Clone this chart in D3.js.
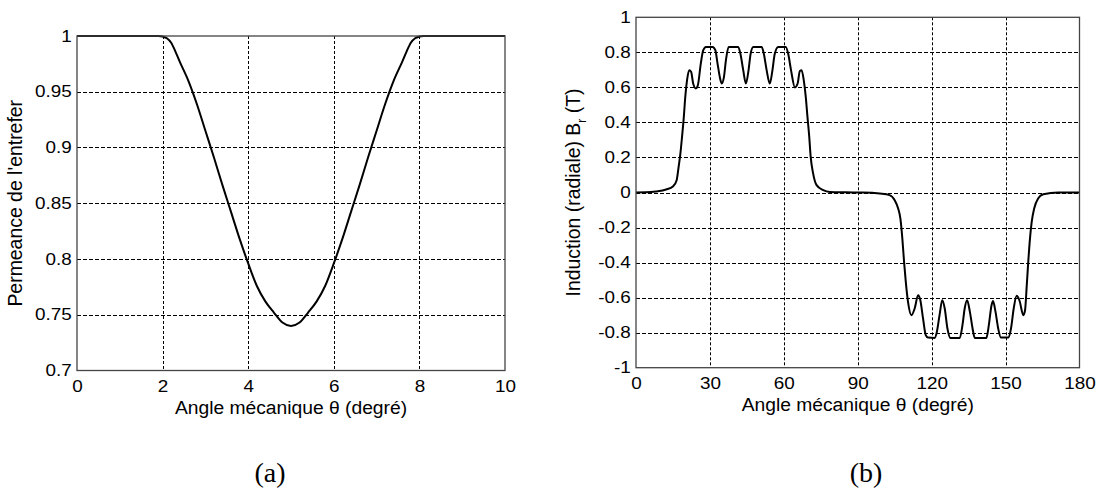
<!DOCTYPE html>
<html>
<head>
<meta charset="utf-8">
<script src="https://cdn.jsdelivr.net/npm/d3@7"></script>
<style>
  body { margin: 0; background: #fff; }
  svg text { fill: #000; }
</style>
</head>
<body>
<script>
// (a) permeance of the air gap vs mechanical angle
const angleA = [0, 0.5, 1, 1.5, 1.8, 1.9, 2.0, 2.1, 2.2, 2.3, 2.4, 2.6, 2.8, 3.0, 3.2, 3.4, 3.6, 3.8, 4.0, 4.2, 4.4, 4.6, 4.8, 5.0,
                5.2, 5.4, 5.6, 5.8, 6.0, 6.2, 6.4, 6.6, 6.8, 7.0, 7.2, 7.4, 7.6, 7.7, 7.8, 7.9, 8.0, 8.1, 8.2, 8.5, 9, 9.5, 10];
const permeance = [1, 1, 1, 1, 1, 1, 0.9995, 0.998, 0.994, 0.986, 0.977, 0.960, 0.939, 0.915, 0.891, 0.866, 0.842, 0.818, 0.796, 0.776, 0.762, 0.752, 0.743, 0.740,
                   0.743, 0.752, 0.762, 0.776, 0.796, 0.818, 0.842, 0.866, 0.891, 0.915, 0.939, 0.960, 0.977, 0.986, 0.994, 0.998, 0.9995, 1, 1, 1, 1, 1, 1];
const xTicksA = [0, 2, 4, 6, 8, 10];
const yTicksA = [0.7, 0.75, 0.8, 0.85, 0.9, 0.95, 1];
const yLabelsA = ["0.7", "0.75", "0.8", "0.85", "0.9", "0.95", "1"];

// (b) radial flux density vs mechanical angle
const angleB = [0, 4, 8.1, 12.2, 15.1, 16.5, 17.3, 18.0, 18.7, 19.4, 20.0, 20.7, 21.6, 22.4, 23.2, 24.3, 25.1, 26.3, 27.3, 28.4,
                31.1, 32.2, 33.1, 34.0, 34.8, 35.7, 36.5, 37.6, 41.5, 42.4, 43.5, 44.6, 45.7, 46.5, 47.6, 51.0, 51.9, 53.0, 54.3, 55.4,
                56.3, 57.7, 60.8, 61.8, 62.9, 64.5, 65.6, 66.5, 67.2, 68.1, 68.9, 69.6, 70.3, 70.9, 71.9, 73.3, 76.0, 78.7, 85, 92,
                98.9, 102.9, 105.0, 106.4, 107.3, 108.1, 108.8, 109.5, 110.4, 111.8, 113.1, 114.5, 115.4, 116.5, 117.6, 118.5, 121.2, 122.1, 123.2, 124.3,
                125.3, 126.4, 127.6, 131.4, 132.5, 133.4, 134.4, 135.5, 136.6, 137.5, 142.2, 143.2, 144.3, 144.9, 145.9, 147.0, 148.1, 151.1, 152.2, 153.3,
                154.5, 155.6, 157.2, 157.9, 158.6, 159.2, 159.9, 160.6, 161.6, 163.2, 165.3, 171.3, 180];
const induction = [0, 0.001, 0.006, 0.017, 0.036, 0.07, 0.146, 0.22, 0.32, 0.43, 0.546, 0.64, 0.698, 0.688, 0.622, 0.594, 0.612, 0.736, 0.812, 0.831,
                   0.831, 0.812, 0.736, 0.66, 0.622, 0.66, 0.755, 0.831, 0.831, 0.79, 0.70, 0.622, 0.70, 0.79, 0.831, 0.831, 0.79, 0.70, 0.622, 0.70,
                   0.79, 0.831, 0.831, 0.79, 0.70, 0.60, 0.622, 0.694, 0.698, 0.64, 0.546, 0.43, 0.32, 0.203, 0.108, 0.042, 0.013, 0.003, 0.001, 0,
                   -0.006, -0.015, -0.044, -0.091, -0.148, -0.263, -0.396, -0.51, -0.624, -0.70, -0.662, -0.587, -0.615, -0.719, -0.814, -0.828, -0.830, -0.796, -0.70, -0.615,
                   -0.662, -0.776, -0.830, -0.830, -0.757, -0.662, -0.615, -0.68, -0.776, -0.830, -0.830, -0.757, -0.643, -0.62, -0.68, -0.776, -0.828, -0.828, -0.776, -0.662,
                   -0.59, -0.615, -0.70, -0.672, -0.529, -0.396, -0.263, -0.168, -0.091, -0.034, -0.01, 0, 0];
const xTicksB = [0, 30, 60, 90, 120, 150, 180];
const yTicksB = [-1, -0.8, -0.6, -0.4, -0.2, 0, 0.2, 0.4, 0.6, 0.8, 1];
const yLabelsB = ["-1", "-0.8", "-0.6", "-0.4", "-0.2", "0", "0.2", "0.4", "0.6", "0.8", "1"];

const sans = "'Liberation Sans', Arial, sans-serif";
const serif = "'Liberation Serif', 'Times New Roman', serif";

const svg = d3.select("body").append("svg")
    .attr("width", 1102)
    .attr("height", 498);

function panel(o) {
  const x = d3.scaleLinear().domain(o.xDomain).range([o.left, o.right]);
  const y = d3.scaleLinear().domain(o.yDomain).range([o.bottom, o.top]);
  const g = svg.append("g");

  // dotted grid
  g.append("g").selectAll("line")
    .data(o.xTicks.slice(1, -1))
    .join("line")
      .attr("x1", d => Math.round(x(d)) + 0.5).attr("x2", d => Math.round(x(d)) + 0.5)
      .attr("y1", o.top).attr("y2", o.bottom)
      .attr("stroke", "#000").attr("stroke-width", 1)
      .attr("stroke-dasharray", "3,2");
  g.append("g").selectAll("line")
    .data(o.yTicks.slice(1, -1))
    .join("line")
      .attr("x1", o.left).attr("x2", o.right)
      .attr("y1", d => Math.round(y(d)) + 0.5).attr("y2", d => Math.round(y(d)) + 0.5)
      .attr("stroke", "#000").attr("stroke-width", 1)
      .attr("stroke-dasharray", "4,2");

  // curve
  g.append("path")
    .datum(o.xs.map((v, i) => [v, o.ys[i]]))
    .attr("fill", "none")
    .attr("stroke", "#000")
    .attr("stroke-width", 2)
    .attr("stroke-linejoin", "round")
    .attr("d", d3.line().x(d => x(d[0])).y(d => y(d[1])).curve(d3.curveMonotoneX));

  // box
  g.append("rect")
    .attr("x", o.left).attr("y", o.top)
    .attr("width", o.right - o.left).attr("height", o.bottom - o.top)
    .attr("fill", "none").attr("stroke", "#444").attr("stroke-width", 1.3);

  const ax = g.append("g")
      .attr("transform", `translate(0,${o.bottom})`)
      .call(d3.axisBottom(x).tickValues(o.xTicks).tickSize(0).tickPadding(10).tickFormat(d3.format("d")));
  const ay = g.append("g")
      .attr("transform", `translate(${o.left},0)`)
      .call(d3.axisLeft(y).tickValues(o.yTicks).tickSize(0).tickPadding(4.5).tickFormat((d, i) => o.yLabels[i]));
  [ax, ay].forEach(a => {
    a.select(".domain").remove();
    a.selectAll("text")
      .attr("font-size", 16).attr("font-family", sans)
      .attr("transform", "scale(1.18,1)");
  });

  // axis titles
  g.append("text")
    .attr("transform", `translate(${(o.left + o.right) / 2},${o.bottom + 43}) scale(1.07,1)`)
    .attr("text-anchor", "middle")
    .attr("font-family", sans).attr("font-size", 18)
    .text("Angle mécanique θ (degré)");
  const yl = g.append("text")
    .attr("transform", `translate(${o.yLabelX},${(o.top + o.bottom) / 2}) rotate(-90) scale(1.08,1.15)`)
    .attr("text-anchor", "middle")
    .attr("font-family", sans).attr("font-size", 18);
  o.yTitle(yl);

  g.append("text")
    .attr("x", o.tagX).attr("y", 482)
    .attr("text-anchor", "middle")
    .attr("font-family", serif)
    .attr("font-size", 28)
    .text(o.tag);
}

panel({
  xs: angleA, ys: permeance,
  xDomain: [0, 10], yDomain: [0.7, 1],
  left: 77, right: 505, top: 36, bottom: 370.5,
  xTicks: xTicksA, yTicks: yTicksA, yLabels: yLabelsA,
  yLabelX: 22,
  yTitle: t => t.text("Permeance de l'entrefer"),
  tagX: 270, tag: "(a)"
});

panel({
  xs: angleB, ys: induction,
  xDomain: [0, 180], yDomain: [-1, 1],
  left: 636, right: 1079.5, top: 17.3, bottom: 367.7,
  xTicks: xTicksB, yTicks: yTicksB, yLabels: yLabelsB,
  yLabelX: 580,
  yTitle: t => {
    t.append("tspan").text("Induction (radiale) B");
    t.append("tspan").attr("font-size", 11).attr("dy", 5).text("r");
    t.append("tspan").attr("dy", -5).text(" (T)");
  },
  tagX: 866, tag: "(b)"
});
</script>
</body>
</html>
